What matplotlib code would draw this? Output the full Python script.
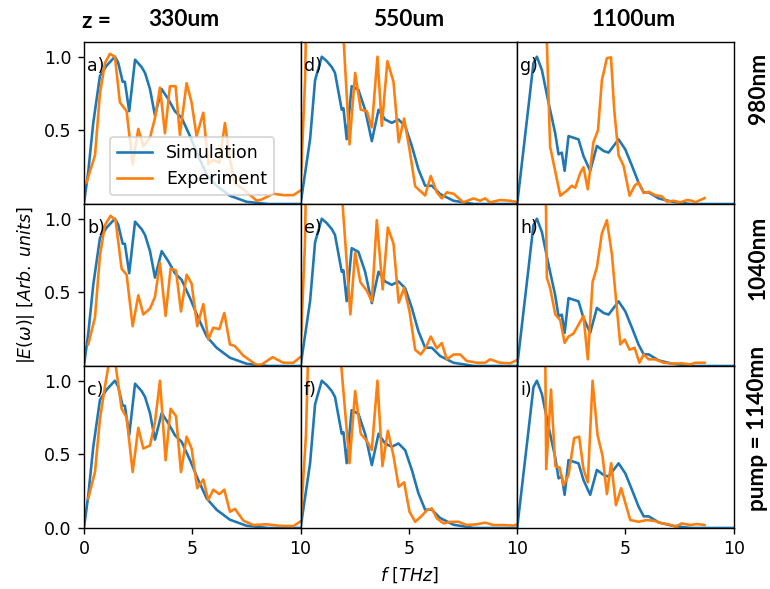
import matplotlib
matplotlib.use("Agg")
import matplotlib.pyplot as plt

# simulation spectra, one per propagation length z
sim_330_f = [0.0, 0.2, 0.43, 0.74, 1.05, 1.43, 1.58, 1.79, 1.89, 2.09, 2.36, 2.66, 2.82, 3.05, 3.28, 3.59,
             3.9, 4.2, 4.51, 4.9, 5.28, 5.67, 6.13, 6.74, 7.51, 8.5, 10.0]
sim_330 = [0.0, 0.22, 0.55, 0.87, 0.94, 1.0, 0.96, 0.83, 0.83, 0.63, 0.98, 0.93, 0.89, 0.78, 0.6, 0.78,
           0.71, 0.63, 0.585, 0.46, 0.325, 0.2, 0.123, 0.056, 0.015, 0.0, 0.0]

sim_550_f = [0.0, 0.44, 0.67, 0.98, 1.21, 1.44, 1.59, 1.9, 1.98, 2.13, 2.36, 2.67, 2.98, 3.29, 3.6, 3.9,
             4.21, 4.52, 4.83, 5.14, 5.44, 5.75, 6.06, 6.44, 7.06, 8.0, 10.0]
sim_550 = [0.0, 0.44, 0.84, 1.0, 0.97, 0.93, 0.89, 0.64, 0.65, 0.44, 0.8, 0.775, 0.64, 0.427, 0.64, 0.574,
           0.551, 0.574, 0.528, 0.393, 0.236, 0.124, 0.124, 0.068, 0.022, 0.0, 0.0]

sim_1100_f = [0.0, 0.52, 0.75, 0.91, 1.14, 1.45, 1.75, 1.91, 2.06, 2.19, 2.37, 2.6, 2.83, 3.06, 3.37, 3.68,
              3.99, 4.22, 4.45, 4.68, 4.99, 5.3, 5.6, 5.84, 6.07, 6.53, 7.14, 8.0, 10.0]
sim_1100 = [0.0, 0.66, 0.956, 1.0, 0.91, 0.686, 0.484, 0.337, 0.349, 0.225, 0.461, 0.45, 0.439, 0.326, 0.225, 0.394,
            0.36, 0.349, 0.394, 0.439, 0.371, 0.259, 0.146, 0.079, 0.079, 0.038, 0.016, 0.0, 0.0]

# experiment spectra, panels a) .. i)
exp_a_f = [0.12, 0.51, 0.74, 0.97, 1.2, 1.43, 1.66, 1.97, 2.25, 2.51, 2.74, 3.05, 3.28, 3.51, 3.74, 3.97,
           4.23, 4.43, 4.74, 4.97, 5.2, 5.51, 5.74, 5.97, 6.25, 6.51, 6.74, 6.97, 7.36, 7.98, 8.2, 8.74,
           9.2, 9.67, 9.98]
exp_a = [0.146, 0.33, 0.75, 0.956, 1.02, 1.0, 0.69, 0.63, 0.27, 0.51, 0.39, 0.45, 0.585, 0.79, 0.48, 0.8,
         0.8, 0.47, 0.82, 0.69, 0.46, 0.62, 0.27, 0.3, 0.28, 0.55, 0.3, 0.14, 0.1, 0.022, 0.03, 0.07,
         0.06, 0.06, 0.09]

exp_b_f = [0.2, 0.51, 0.74, 0.97, 1.23, 1.46, 1.74, 1.97, 2.25, 2.51, 2.74, 3.05, 3.28, 3.51, 3.77, 4.0,
           4.25, 4.48, 4.74, 4.97, 5.23, 5.51, 5.74, 5.97, 6.25, 6.48, 6.74, 6.97, 7.36, 7.98, 8.2, 8.71,
           9.2, 9.67, 9.98]
exp_b = [0.146, 0.33, 0.75, 0.956, 1.02, 0.99, 0.66, 0.62, 0.27, 0.48, 0.35, 0.39, 0.47, 0.7, 0.34, 0.66,
         0.65, 0.37, 0.62, 0.56, 0.27, 0.42, 0.18, 0.26, 0.25, 0.36, 0.146, 0.135, 0.07, 0.006, 0.01, 0.06,
         0.022, 0.022, 0.06]

exp_c_f = [0.2, 0.51, 0.74, 0.97, 1.2, 1.45, 1.74, 1.97, 2.25, 2.51, 2.74, 3.05, 3.28, 3.51, 3.77, 4.0,
           4.25, 4.48, 4.74, 4.97, 5.23, 5.51, 5.74, 5.97, 6.25, 6.48, 6.74, 6.97, 7.36, 7.82, 8.44, 9.05,
           9.67, 9.98]
exp_c = [0.2, 0.38, 0.74, 0.96, 1.16, 1.12, 0.81, 0.75, 0.38, 0.68, 0.54, 0.56, 0.72, 1.0, 0.46, 0.81,
         0.76, 0.38, 0.62, 0.54, 0.27, 0.33, 0.19, 0.26, 0.23, 0.26, 0.11, 0.13, 0.05, 0.02, 0.025, 0.015,
         0.013, 0.043]

exp_d_f = [0.0, 0.21, 0.4, 1.2, 1.8, 2.26, 2.52, 2.78, 3.06, 3.29, 3.55, 3.75, 4.01, 4.29, 4.53, 4.78,
           5.03, 5.29, 5.75, 6.01, 6.29, 6.52, 6.75, 7.06, 7.52, 7.98, 8.29, 8.52, 8.75, 9.21, 9.67, 10.06]
exp_d = [0.1, 0.85, 2.5, 3.0, 1.6, 0.405, 0.89, 0.64, 0.63, 0.52, 1.0, 0.53, 0.97, 0.83, 0.42, 0.58,
         0.37, 0.12, 0.058, 0.19, 0.08, 0.038, 0.079, 0.07, 0.011, 0.038, 0.022, 0.038, 0.011, 0.027, 0.022, 0.011]

exp_e_f = [0.0, 0.2, 0.4, 1.2, 1.7, 2.3, 2.52, 2.76, 3.06, 3.29, 3.52, 3.79, 4.03, 4.29, 4.53, 4.78,
           5.03, 5.29, 5.55, 5.8, 6.01, 6.29, 6.52, 6.75, 7.06, 7.37, 7.67, 8.14, 8.52, 8.75, 9.21, 9.67, 10.06]
exp_e = [0.1, 0.82, 2.5, 3.0, 1.6, 0.35, 0.77, 0.57, 0.51, 0.44, 0.99, 0.52, 0.94, 0.83, 0.43, 0.53,
         0.37, 0.11, 0.078, 0.13, 0.2, 0.12, 0.156, 0.045, 0.078, 0.078, 0.034, 0.022, 0.022, 0.045, 0.022,
         0.018, 0.045]

exp_f_f = [0.0, 0.25, 0.5, 1.2, 1.65, 2.26, 2.52, 2.78, 3.06, 3.29, 3.55, 3.78, 4.03, 4.29, 4.53, 4.78,
           5.03, 5.29, 5.55, 5.83, 6.06, 6.29, 6.6, 6.91, 7.29, 7.67, 8.14, 8.52, 8.91, 9.37, 9.83, 10.06]
exp_f = [0.04, 0.63, 2.0, 3.0, 1.5, 0.44, 0.93, 0.64, 0.59, 0.53, 1.0, 0.42, 0.66, 0.49, 0.28, 0.31,
         0.11, 0.042, 0.076, 0.12, 0.133, 0.065, 0.031, 0.042, 0.042, 0.02, 0.025, 0.036, 0.02, 0.02, 0.016, 0.027]

exp_g_f = [1.2, 1.52, 1.99, 2.29, 2.52, 2.68, 2.91, 3.06, 3.26, 3.52, 3.73, 3.91, 4.14, 4.33, 4.48, 4.68,
           4.91, 5.19, 5.42, 5.6, 5.84, 6.07, 6.37, 6.68, 6.91, 7.22, 7.53, 7.84, 8.07, 8.22, 8.45, 8.65]
exp_g = [1.9, 0.39, 0.056, 0.09, 0.124, 0.11, 0.21, 0.25, 0.1, 0.42, 0.5, 0.84, 0.99, 0.996, 0.64, 0.33,
         0.26, 0.056, 0.124, 0.146, 0.074, 0.083, 0.06, 0.052, 0.016, 0.022, 0.011, 0.027, 0.022, 0.011, 0.027, 0.04]

exp_h_f = [1.25, 1.37, 1.52, 1.76, 1.99, 2.19, 2.37, 2.6, 2.83, 3.06, 3.26, 3.48, 3.68, 3.91, 4.14, 4.37,
           4.57, 4.76, 4.96, 5.19, 5.42, 5.64, 5.84, 6.07, 6.37, 6.76, 7.14, 7.6, 7.99, 8.22, 8.65]
exp_h = [2.0, 0.6, 0.53, 0.35, 0.31, 0.157, 0.2, 0.22, 0.28, 0.34, 0.045, 0.57, 0.67, 0.9, 0.99, 0.76,
         0.44, 0.146, 0.18, 0.11, 0.124, 0.022, 0.079, 0.045, 0.045, 0.022, 0.016, 0.018, 0.011, 0.022, 0.022]

exp_i_f = [1.25, 1.34, 1.56, 1.76, 1.96, 2.14, 2.37, 2.63, 2.86, 3.06, 3.26, 3.48, 3.71, 3.94, 4.14, 4.34,
           4.56, 4.8, 5.02, 5.22, 5.6, 5.99, 6.37, 6.68, 6.99, 7.3, 7.6, 7.99, 8.3, 8.65]
exp_i = [2.0, 0.4, 0.94, 0.42, 0.41, 0.29, 0.36, 0.61, 0.62, 0.4, 0.31, 1.0, 0.63, 0.49, 0.23, 0.44,
         0.155, 0.27, 0.155, 0.054, 0.042, 0.054, 0.047, 0.031, 0.025, 0.009, 0.031, 0.02, 0.027, 0.02]

z_labels = ["330um", "550um", "1100um"]
pump_labels = ["980nm", "1040nm", "pump = 1140mn"]
panel_labels = [["a)", "d)", "g)"], ["b)", "e)", "h)"], ["c)", "f)", "i)"]]

sims = [(sim_330_f, sim_330), (sim_550_f, sim_550), (sim_1100_f, sim_1100)]
exps = [[(exp_a_f, exp_a), (exp_d_f, exp_d), (exp_g_f, exp_g)],
        [(exp_b_f, exp_b), (exp_e_f, exp_e), (exp_h_f, exp_h)],
        [(exp_c_f, exp_c), (exp_f_f, exp_f), (exp_i_f, exp_i)]]

fig, axes = plt.subplots(3, 3, figsize=(6.16, 4.712), dpi=125)
fig.subplots_adjust(left=0.109, right=0.953, bottom=0.1036, top=0.9287, wspace=0, hspace=0)

for r in range(3):
    for c in range(3):
        ax = axes[r, c]
        sx, sy = sims[c]
        ex, ey = exps[r][c]
        ax.plot(sx, sy, color="tab:blue", label="Simulation")
        ax.plot(ex, ey, color="tab:orange", label="Experiment")
        ax.text(0.015, 0.85, panel_labels[r][c], transform=ax.transAxes,
                ha="left", va="center", fontsize=10)
        ax.set_xlim(0, 10)
        ax.set_ylim(0, 1.1)
        # x ticks only on bottom row, y ticks only on left column
        ax.set_xticks([0, 5, 10] if c == 0 else [5, 10])
        ax.set_yticks([0.0, 0.5, 1.0] if r == 2 else [0.5, 1.0])
        if r < 2:
            ax.set_xticks([])
        if c > 0:
            ax.set_yticks([])

axes[0, 0].legend(loc="lower center")
axes[2, 1].set_xlabel(r"$f\ [THz]$")
axes[1, 0].set_ylabel(r"$|E(\omega)|\ [Arb.\ units]$")

title_font = dict(family="Lato", weight="bold", fontsize=13)
fig.text(96 / 770, 1 - 22 / 589, "z =", ha="center", va="center", **title_font)
for c, lab in enumerate(z_labels):
    fig.text((184 + c * 225) / 770, 1 - 19 / 589, lab, ha="center", va="center", **title_font)
for r, lab in enumerate(pump_labels):
    fig.text(758 / 770, 1 - (88 + r * 170) / 589, lab, ha="center", va="center",
             rotation=90, **title_font)

fig.savefig("out.png", dpi=125)
